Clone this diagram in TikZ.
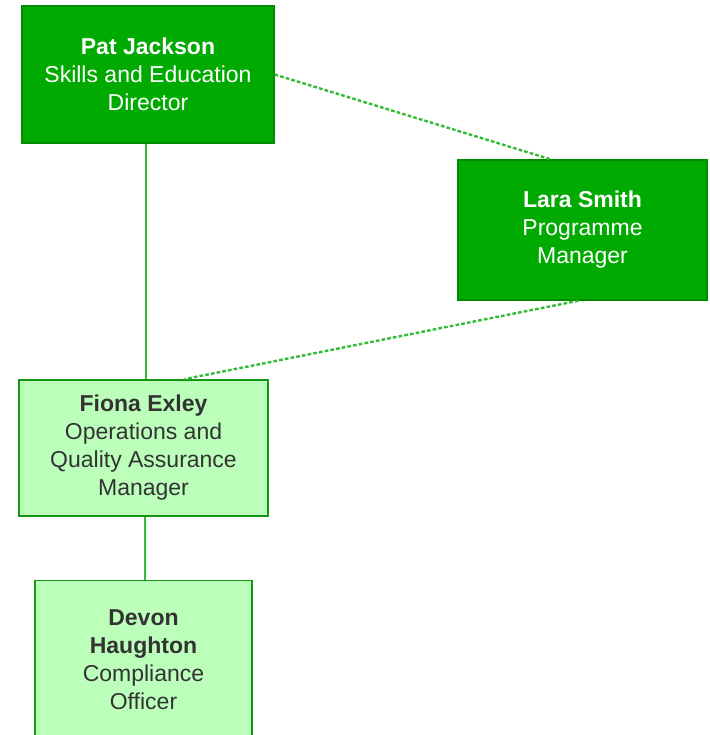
\documentclass[tikz,border=0pt]{standalone}
\usepackage{fontspec}
\setmainfont{Liberation Sans}
\usetikzlibrary{positioning}

\definecolor{darkfill}{RGB}{0,170,0}
\definecolor{darkedge}{RGB}{0,140,0}
\definecolor{lightfill}{RGB}{187,255,187}
\definecolor{lightedge}{RGB}{20,150,20}
\definecolor{linkgreen}{RGB}{51,187,51}
\definecolor{textgray}{RGB}{51,51,51}

\tikzset{
    boss/.style={draw=darkedge, fill=darkfill, text=white, line width=0.7pt,
        align=center, font=\fontsize{11.5pt}{14pt}\selectfont, inner sep=0pt},
    staff/.style={draw=lightedge, fill=lightfill, text=textgray, line width=0.9pt,
        align=center, font=\fontsize{11.5pt}{14pt}\selectfont, inner sep=0pt},
    link/.style={draw=linkgreen, line width=0.9pt},
    dotlink/.style={draw=linkgreen, line width=1.2pt, dash pattern=on 1.8pt off 1.1pt}
}

\begin{document}
\begin{tikzpicture}[x=0.5pt, y=-0.5pt]

    \useasboundingbox (0,0) rectangle (710,735);
    \clip (0,0) rectangle (710,735);

    \node[boss, minimum width=126pt, minimum height=68.5pt] (pat) at (148,74.5)
        {\textbf{Pat Jackson}\\Skills and Education\\Director};
    \node[boss, minimum width=124.5pt, minimum height=70pt] (lara) at (582.5,230)
        {\textbf{Lara Smith}\\Programme\\Manager};
    \node[staff, minimum width=124.5pt, minimum height=68pt] (fiona) at (143.5,448)
        {\textbf{Fiona Exley}\\Operations and\\Quality Assurance\\Manager};
    \node[staff, minimum width=108.5pt, minimum height=79pt] (devon) at (143.5,659.5)
        {\textbf{Devon}\\\textbf{Haughton}\\Compliance\\Officer};

    % solid reporting lines
    \path[link] (pat.south -| 146,0) -- (fiona.north -| 146,0);
    \path[link] (fiona.south -| 145,0) -- (devon.north -| 145,0);

    % dotted lines
    \path[dotlink] (pat.east) -- ([xshift=-16pt]lara.north);
    \path[dotlink] ([xshift=-2pt]lara.south) -- ([xshift=20.5pt]fiona.north);

\end{tikzpicture}
\end{document}
